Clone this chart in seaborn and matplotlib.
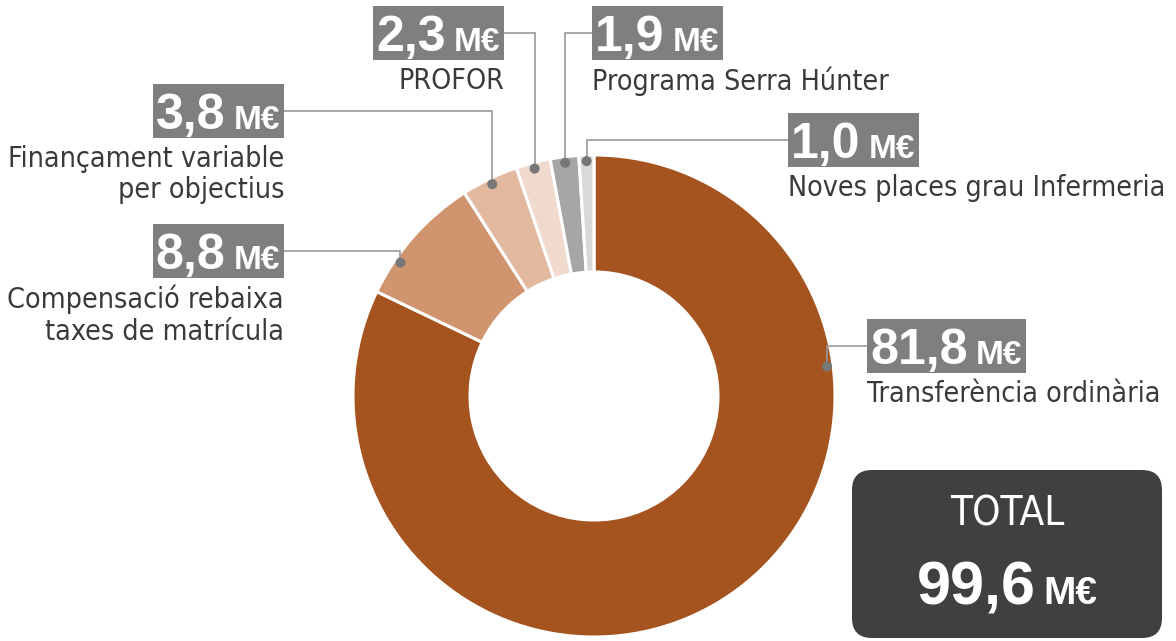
import matplotlib
matplotlib.use('Agg')
import matplotlib.pyplot as plt
from matplotlib import font_manager
from matplotlib.patches import Rectangle, FancyBboxPatch, Circle
import numpy as np
import seaborn as sns

# data
categories = ['Transferència ordinària',
              'Compensació rebaixa\ntaxes de matrícula',
              'Finançament variable\nper objectius',
              'PROFOR',
              'Programa Serra Húnter',
              'Noves places grau Infermeria']
amounts = [81.8, 8.8, 3.8, 2.3, 1.9, 1.0]
unit = 'M€'
total_title = 'TOTAL'

colors = ['#A5531F', '#D0946F', '#E2B89F', '#F0D9CD', '#A6A6A6', '#D9D9D9']

# label layout in pixels from the top-left corner:
# box edge x, box top y, direction the box grows, position of the dot along the wedge
layout = [
    (867, 319, 'right', 0.28),
    (284, 224, 'left', 0.28),
    (284, 84, 'left', 0.5),
    (504, 6, 'left', 0.5),
    (592, 6, 'right', 0.5),
    (788, 113, 'right', 0.5),
]

sns.set_theme(style='white')

names = {f.name for f in font_manager.fontManager.ttflist}
if 'Liberation Sans Narrow' in names:
    narrow = dict(family='Liberation Sans Narrow')
else:
    narrow = dict(family='DejaVu Sans', stretch='condensed')
wide = 'Liberation Sans' if 'Liberation Sans' in names else 'DejaVu Sans'


def fmt(v):
    return f'{v:.1f}'.replace('.', ',')


fig = plt.figure(figsize=(11.76, 6.41), dpi=100)
ax = fig.add_axes([0, 0, 1, 1])

cx, cy, R, ring = 594, 396, 241, 117
wedges, _ = ax.pie(amounts, colors=colors, startangle=-90, counterclock=True,
                   radius=R, center=(cx, cy),
                   wedgeprops=dict(width=ring, edgecolor='white', linewidth=2.2))
ax.set_xlim(0, 1176)
ax.set_ylim(641, 0)
ax.set_aspect('equal')
ax.axis('off')

renderer = fig.canvas.get_renderer()
inv = ax.transData.inverted()


def extent(t):
    return t.get_window_extent(renderer).transformed(inv)


box_grey = '#7F7F7F'
line_grey = '#9A9A9A'
text_col = '#3A3A3A'
box_h = 54
pad = 3

for w, name, val, (ex, top, side, frac) in zip(wedges, categories, amounts, layout):
    base = top + 45
    num_kw = dict(color='white', fontsize=36, fontweight='bold', family=wide,
                  va='baseline', zorder=5)
    unit_kw = dict(color='white', fontsize=24, fontweight='bold', family=wide,
                   va='baseline', zorder=5)
    if side == 'right':
        t1 = ax.text(ex + pad, base, fmt(val), ha='left', **num_kw)
        b1 = extent(t1)
        t2 = ax.text(b1.x1 + 8, base, unit, ha='left', **unit_kw)
        b2 = extent(t2)
        x0, x1 = ex, b2.x1 + pad + 1
    else:
        t2 = ax.text(ex - pad - 1, base, unit, ha='right', **unit_kw)
        b2 = extent(t2)
        t1 = ax.text(b2.x0 - 8, base, fmt(val), ha='right', **num_kw)
        b1 = extent(t1)
        x0, x1 = b1.x0 - pad, ex
    ax.add_patch(Rectangle((x0, top), x1 - x0, box_h, facecolor=box_grey,
                           edgecolor='none', zorder=4))

    ax.text(ex, top + box_h + 7, name, ha='left' if side == 'right' else 'right',
            va='top', fontsize=20.5, color=text_col, linespacing=1.15,
            zorder=5, **narrow)

    # leader line and dot
    a = np.deg2rad(w.theta1 + frac * (w.theta2 - w.theta1))
    dx = cx + (R - 6) * np.cos(a)
    dy = cy + (R - 6) * np.sin(a)
    ly = top + box_h / 2
    ax.plot([dx, dx, ex], [dy, ly, ly], color=line_grey, lw=1.2, zorder=3,
            solid_joinstyle='miter')
    ax.add_patch(Circle((dx, dy), 5, facecolor='#777777', edgecolor='none',
                        zorder=6))

# total box
ax.add_patch(FancyBboxPatch((852, 470), 310, 168,
                            boxstyle='round,pad=0,rounding_size=20',
                            facecolor='#404040', edgecolor='none', zorder=4))
ax.text(1007, 526, total_title, ha='center', va='baseline', fontsize=29,
        color='white', zorder=5, **narrow)
tn = ax.text(0, 604, fmt(sum(amounts)), ha='left', va='baseline', fontsize=44,
             fontweight='bold', family=wide, color='white', zorder=5)
tu = ax.text(0, 604, unit, ha='left', va='baseline', fontsize=28,
             fontweight='bold', family=wide, color='white', zorder=5)
wn = extent(tn).width
wu = extent(tu).width
start = 1007 - (wn + 8 + wu) / 2
tn.set_x(start)
tu.set_x(start + wn + 8)

fig.savefig('out.png', dpi=100, facecolor='white')
